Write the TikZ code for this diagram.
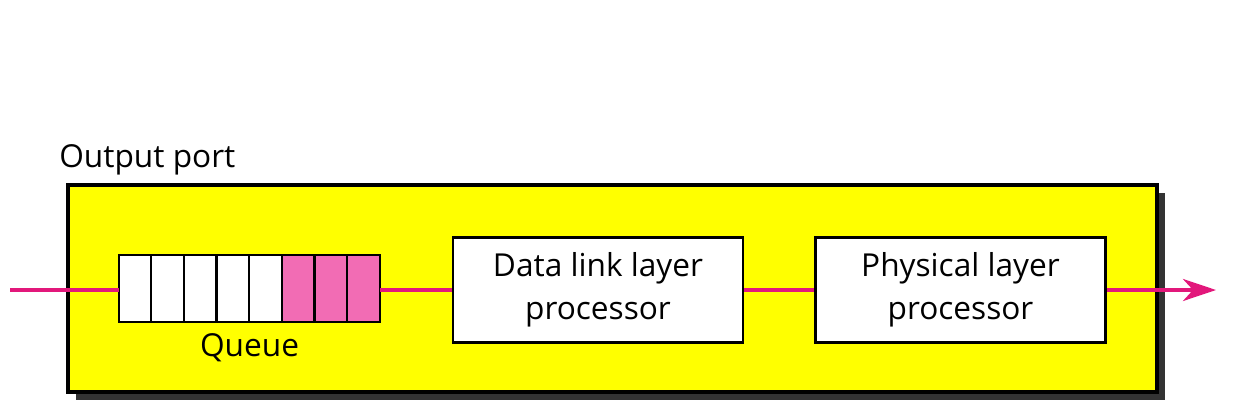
\documentclass[tikz,border=0pt]{standalone}
\usepackage{fontspec}
\setmainfont{Open Sans}
\usepackage{tikz}
\usetikzlibrary{positioning, calc, arrows.meta}
\definecolor{PortYellow}{HTML}{FFFF00}
\definecolor{PortShadow}{HTML}{333333}
\definecolor{LinkMagenta}{HTML}{E2187B}
\definecolor{CellPink}{HTML}{F26CB4}

\begin{document}
\begin{tikzpicture}[x=0.2mm, y=-0.2mm,
    procbox/.style={draw=black, line width=1.3pt, fill=white, minimum width=5.8cm,
                    minimum height=2.1cm, align=center, font=\fontsize{18}{24.5}\selectfont},
    link/.style={LinkMagenta, line width=2.2pt}]
      \useasboundingbox (0,0) rectangle (1252,406);
      %% Output port -- shadow and yellow frame
      \fill[PortShadow] (76,193) rectangle (1165,400);
      \fill[PortYellow] (68,185) rectangle (1157,392);
      \draw[black, line width=1.8pt] (68,185) rectangle (1157,392);
      \node[anchor=south west, inner sep=0pt, font=\fontsize{18}{23}\selectfont] (title) at (59,175) {Output port};
      %% Queue cells
      \node[draw=none, minimum width=5.22cm, minimum height=1.34cm, inner sep=0pt] (queue) at (249.5,288.5) {};
      \foreach \i in {0,...,7} {
        \ifnum\i>4 \def\cellcol{CellPink}\else \def\cellcol{white}\fi
        \draw[black, line width=1.3pt, fill=\cellcol] ($(queue.north west)+(\i*32.625,0)$) rectangle ++(32.625,67);
      }
      \node[font=\fontsize{18}{23}\selectfont, below=3pt of queue] (qlabel) {Queue};
      %% Processors
      \node[procbox] (dll) at (598,290) {Data link layer\\processor};
      \node[procbox] (phy) at (960.5,290) {Physical layer\\processor};
      %% Connectors
      \coordinate (in) at (10,290);
      \coordinate (out) at (1216,290);
      \draw[link] (in) -- (queue.west |- in);
      \draw[link] (queue.east |- in) -- (dll.west |- in);
      \draw[link] (dll.east |- in) -- (phy.west |- in);
      \draw[link, -{Stealth[length=0.66cm, width=0.44cm, inset=0.2cm]}] (phy.east |- in) -- (out);
    \end{tikzpicture}
\end{document}
